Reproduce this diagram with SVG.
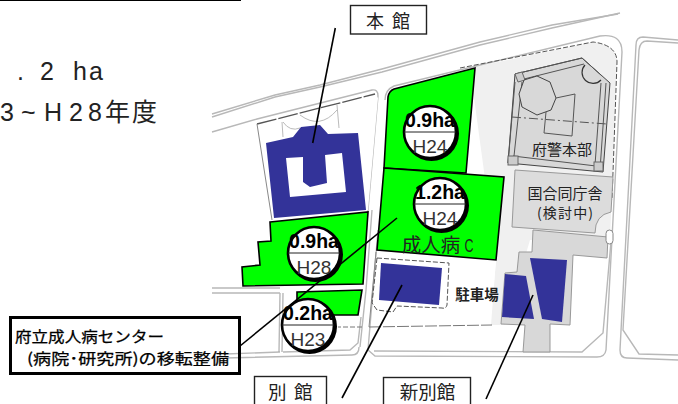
<svg xmlns="http://www.w3.org/2000/svg" width="678" height="404" viewBox="0 0 678 404">
<style>
text{font-family:"Noto Sans CJK JP","Liberation Sans",sans-serif;fill:#222;text-anchor:middle}
.lat{font-family:"Liberation Sans","Noto Sans CJK JP",sans-serif}
.road{fill:none;stroke:#b8b8b8;stroke-width:1.4}
.thin{fill:none;stroke:#555;stroke-width:1}
.dash{fill:none;stroke:#555;stroke-width:1;stroke-dasharray:5 2}
.green{fill:#00ff00;stroke:#000;stroke-width:1.6}
.blue{fill:#333399;stroke:none}
.lbl{fill:#fff;stroke:#222;stroke-width:1.4}
.lead{fill:none;stroke:#000;stroke-width:1.6}
.disc{fill:#fff;stroke:#000;stroke-width:2.6}
.shade{fill:#000}
.amt{font-family:"Liberation Sans",sans-serif;font-size:19.500px;font-weight:bold;fill:#000}
.yr{font-family:"Liberation Sans",sans-serif;font-size:19px;fill:#333}
.start{text-anchor:start}
.call{font-size:15.200px;fill:#000;stroke:#000;stroke-width:.25;text-anchor:start}
</style>

<g id="heading">
<line x1="0" y1="0" x2="241" y2="0" stroke="#000" stroke-width="2"/>
<text class="lat start" font-size="25" x="17" y="80">.</text>
<text class="lat start" font-size="25" x="40" y="80">2</text>
<text class="lat start" font-size="25" x="73 89" y="80">ha</text>
<text class="lat start" font-size="25" x="0 21 44 69 88 105 132" y="121">3~H28年度</text>
</g>

<g id="site-base">
<path d="M470 68L593 42Q617 45 617 62L610 240L530 240L505 325L491 325L496 260Z" fill="#f0f0f0"/>
<path d="M378 252L496 261L490 326L370 327Z" fill="#fff"/>
<path class="road" d="M212 117L275 97L320 87L382 72L480 45L552 28L620 13"/>
<path class="road" d="M212 114L275 95L320 85L382 69L480 42L552 25L618 14"/>
<path class="road" d="M212 132L257 119L372 90Q378 89 378 96L368 210L362 284"/>
<path class="road" d="M372 210L366 290L360 347"/>
<path class="road" d="M212 288H280M212 293H280M280 293L279 352M283 293L282 352M225 354L280 352M225 358L352 355Q359 355 359 347M283 352L350 350L358 343L361 317"/>
<path class="road" d="M385 100Q385 90 394 86L600 36Q622 33 622 52L606 350Q605 357 597 357L375 356L368 350L378 230"/>
<path class="road" d="M374 351L582 352L603 333L612 230"/>
<path class="road" d="M678 40L643 37Q636 37 636 45L620 350Q620 358 627 358L678 360"/>
<path class="road" d="M678 43L647 41Q640 41 639 50L623 330L639 354L678 355"/>
<path class="dash" d="M460 68L593 42Q617 45 617 62L612 200"/>
<path d="M369 327L376 252" fill="none" stroke="#888" stroke-width="1"/>
<path d="M369 327L492 325" fill="none" stroke="#777" stroke-width="1" stroke-dasharray="12 2"/>
<path d="M362 327H338" fill="none" stroke="#777" stroke-width="1" stroke-dasharray="5 2"/>
</g>

<g id="honkan">
<path d="M257 124L375 94L378 98L368 210L272 220Z" fill="#fff"/>
<path d="M257 124L375 94" fill="none" stroke="#555" stroke-width="1.3" stroke-dasharray="20 2"/>
<path d="M257 124L272 220" fill="none" stroke="#888"/>
<path d="M282 122L283 137M337 105L339 128M283 122Q290 132 300 128M300 115Q320 130 337 110" fill="none" stroke="#bbb"/>
<path class="blue" d="M266 143L293 137L301 127L320 125L328 134L358 133L366 210L274 218Z"/>
<path d="M286 158L303 157L303 182L310 187L327 183L325 155L342 153L346 192L290 197Z" fill="#fff"/>
</g>

<g id="fukei">
<path d="M515 74L582 58L610 83L603 172L508 163Z" fill="#d8d8d8" stroke="#444"/>
<path class="thin" d="M515 74L582 58L602 76M524 79L584 64M515 82L508 163M522 82L514 156M513 156L596 166M606 83L600 170M601 83L595 165"/>
<rect x="508" y="156" width="10" height="9" fill="#ccc" stroke="#666"/>
<rect x="594" y="162" width="9" height="9" fill="#ccc" stroke="#666"/>
<path d="M515 74L522 72L525 80L518 82Z" fill="#ccc" stroke="#666"/>
<path d="M585 65A9 9 0 0 0 601 80" fill="none" stroke="#333" stroke-width="1.2"/>
<path d="M537 76L550 82L556 98L551 110L537 115L522 107L519 94L524 80Z" fill="#d8d8d8" stroke="#444"/>
<path class="thin" d="M556 98L575 94L572 136L544 133L546 112"/>
<path class="thin" stroke-dasharray="9 3 2 3" d="M512 117L607 124"/>
<text font-size="15" x="562" y="155">府警本部</text>
</g>

<g id="kokugo">
<path d="M515 170L613 177L611 212Q595 215 595 233L512 227Z" fill="#dcdcdc" stroke="#999"/>
<text font-size="15" x="565" y="199">国合同庁舎</text>
<text font-size="14" x="565" y="218" textLength="56">(検討中)</text>
</g>

<g id="shinbekkan">
<path d="M533 230L608 237L607 258L573 255L570 325L550 324L550 352L523 352L525 325L501 324L505 273L517 272L519 252L532 252Z" fill="#d8d8d8" stroke="#999"/>
<rect x="606" y="230" width="7" height="14" rx="3.500" fill="#fff" stroke="#888"/>
<path class="blue" d="M505 274L526 276L534 319L502 317Z"/>
<path class="blue" d="M530 258L567 260L562 322L542 319Z"/>
</g>

<g id="bekkan">
<path class="dash" d="M377 258L449 263L447 305Q446 309 442 308L397 306L393 312L377 310L372 303Z"/>
<path class="blue" d="M381 263L442 268L439 305L379 300Z"/>
</g>

<g id="green-areas">
<path class="green" d="M388 97Q389 91 394 89L475 68L466 173L384 168Z"/>
<path class="green" d="M384 168L504 177L496 260L377 250Z"/>
<path class="green" d="M270 222L368 212L363 284L243 286L242 267L260 265L258 242L271 241Z"/>
<path class="green" d="M297 292L362 290L358 315L297 315Z"/>
<text font-size="19.500" x="431" y="252">成人病</text>
<text class="lat" font-size="19" x="469" y="252" textLength="9" lengthAdjust="spacingAndGlyphs">C</text>
</g>

<g id="connectors">
<path class="lead" d="M335.300 28L312.700 143"/>
<path class="lead" d="M240 346L397 218"/>
<path class="lead" d="M402 285L342 398"/>
<path class="lead" d="M533 295L486 399"/>
</g>

<g id="plot-h24-a">
<circle class="shade" cx="431.500" cy="133.500" r="27.500"/>
<circle class="disc" cx="430" cy="132" r="26"/>
<line x1="404" y1="132" x2="456" y2="132" stroke="#222"/>
<text class="amt" x="430" y="127">0.9ha</text>
<text class="yr" x="430" y="153">H24</text>
</g>
<g id="plot-h24-b">
<circle class="shade" cx="441.500" cy="205.500" r="27.500"/>
<circle class="disc" cx="440" cy="204" r="26"/>
<line x1="414" y1="204" x2="466" y2="204" stroke="#222"/>
<text class="amt" x="440" y="199">1.2ha</text>
<text class="yr" x="440" y="225">H24</text>
</g>
<g id="plot-h28">
<circle class="shade" cx="315.500" cy="254.500" r="27.500"/>
<circle class="disc" cx="314" cy="253" r="26"/>
<line x1="288" y1="253" x2="340" y2="253" stroke="#222"/>
<text class="amt" x="314" y="248">0.9ha</text>
<text class="yr" x="314" y="274">H28</text>
</g>
<g id="plot-h23">
<circle class="shade" cx="309.500" cy="326.500" r="27.500"/>
<circle class="disc" cx="308" cy="325" r="26"/>
<line x1="282" y1="325" x2="334" y2="325" stroke="#222"/>
<text class="amt" x="308" y="320">0.2ha</text>
<text class="yr" x="308" y="346">H23</text>
</g>

<text id="parking" font-size="14.500" font-weight="700" x="477" y="300" fill="#000">駐車場</text>

<g id="label-honkan">
<rect class="lbl" x="350.500" y="5.500" width="76" height="28.500"/>
<text class="start" font-size="18" x="366" y="28">本</text>
<text class="start" font-size="18" x="392" y="28">館</text>
</g>
<g id="label-bekkan">
<rect class="lbl" x="254.500" y="376.500" width="72" height="30"/>
<text class="start" font-size="18.500" x="268" y="398.500">別</text>
<text class="start" font-size="18.500" x="294" y="398.500">館</text>
</g>
<g id="label-shinbekkan">
<rect class="lbl" x="383.500" y="377.500" width="87" height="30"/>
<text font-size="18.500" x="427.500" y="398.500">新別館</text>
</g>

<g id="callout">
<rect x="10.500" y="317.500" width="229" height="56" fill="none" stroke="#000" stroke-width="3"/>
<text class="call" x="15" y="342" textLength="149" lengthAdjust="spacingAndGlyphs">府立成人病センター</text>
<text class="call" x="27" y="364" textLength="202" lengthAdjust="spacingAndGlyphs">(病院･研究所)の移転整備</text>
</g>
</svg>
